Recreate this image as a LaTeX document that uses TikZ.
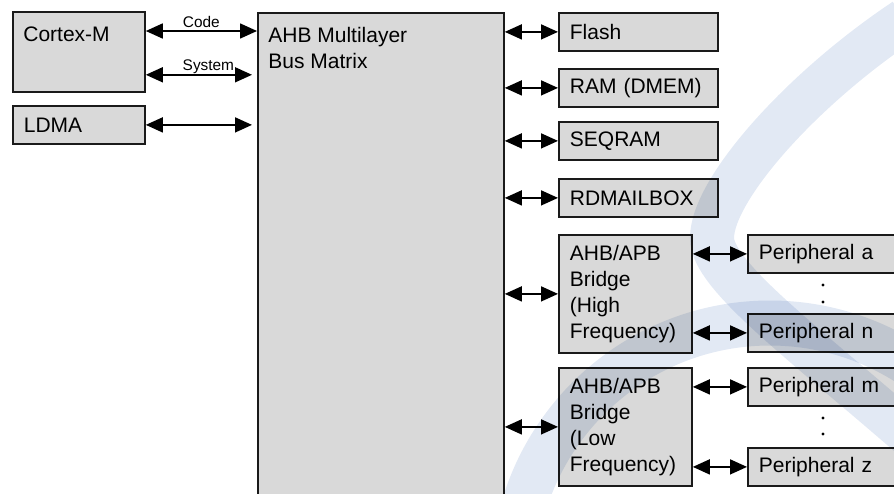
\documentclass[tikz,border=0pt]{standalone}
\usepackage{fontspec}
\setmainfont{Liberation Sans}
\usepackage{tikz}
\usetikzlibrary{arrows.meta, positioning}
\definecolor{boxgray}{RGB}{217,217,217}
\definecolor{boxline}{RGB}{26,26,26}
\definecolor{wmblue}{RGB}{226,233,244}
\tikzset{
  block/.style={
    rectangle, draw=boxline, fill=boxgray, line width=0.9pt,
    anchor=north west, align=left, inner xsep=5.5pt, inner ysep=0pt
  },
  memory/.style={block, minimum width=79.5pt, text width=68.5pt, minimum height=19pt},
  bridge/.style={block, minimum width=66.5pt, text width=55.5pt, minimum height=59pt},
  periph/.style={block, minimum width=82pt, text width=71pt, minimum height=19pt},
  toplabel/.style={
    label={[anchor=north west, inner sep=0pt, align=left, xshift=5.5pt, yshift=-7.5pt]north west:#1}
  },
  link/.style={
    {Triangle[length=8.5pt,width=7.5pt]}-{Triangle[length=8.5pt,width=7.5pt]}, line width=0.8pt, color=black
  },
  buslabel/.style={font=\fontsize{7.7pt}{9pt}\selectfont, anchor=base, inner sep=0pt, yshift=2pt},
  watermark/.style={draw=wmblue, blend mode=multiply}
}

\begin{document}
\begin{tikzpicture}[x=0.5pt, y=-0.5pt, font=\fontsize{10.5pt}{13pt}\selectfont]

\useasboundingbox (0,0) rectangle (894,493);
\clip (0,0) rectangle (894,493);

% masters
\node[block, minimum width=66pt, minimum height=40pt, toplabel=Cortex-M] (cortex) at (12,11) {};
\node[block, minimum width=66pt, text width=55pt, minimum height=19pt] (ldma) at (12,105) {LDMA};

\node[block, minimum width=123pt, minimum height=245pt, toplabel={AHB Multilayer\\Bus Matrix}] (matrix) at (257,12) {};

% slaves
\node[memory] (flash) at (558,12) {Flash};
\node[memory] (ram) at (558,68) {RAM (DMEM)};
\node[memory] (seqram) at (558,121) {SEQRAM};
\node[memory] (rdmailbox) at (558,178) {RDMAILBOX};

\node[bridge] (bridgeHigh) at (558,234) {AHB/APB\\Bridge\\(High\\Frequency)};
\node[bridge] (bridgeLow) at (558,367) {AHB/APB\\Bridge\\(Low\\Frequency)};

\node[periph] (periphA) at (747,234) {Peripheral a};
\node[periph] (periphN) at (747,313) {Peripheral n};
\node[periph] (periphM) at (747,367) {Peripheral m};
\node[periph] (periphZ) at (747,447) {Peripheral z};

\foreach \y in {285,302,418,434}
  \fill (823,\y) circle[radius=0.8pt];

% buses
\coordinate (codeL) at ([yshift=-10pt]cortex.north east);
\coordinate (systemL) at ([yshift=9pt]cortex.south east);

\draw[link] (codeL) -- (codeL -| matrix.west) node[buslabel, midway] {Code};
\draw[link, shorten >=2.5pt] (systemL) -- (systemL -| matrix.west) node[buslabel, midway, xshift=3.5pt] {System};
\draw[link, shorten >=2.5pt] (ldma.east) -- (ldma.east -| matrix.west);

\foreach \n in {flash, ram, seqram, rdmailbox, bridgeHigh, bridgeLow}
  \draw[link] (\n.west -| matrix.east) -- (\n.west);

\draw[link] (periphA.west -| bridgeHigh.east) -- (periphA.west);
\draw[link] (periphN.west -| bridgeHigh.east) -- (periphN.west);
\draw[link] (periphM.west -| bridgeLow.east) -- (periphM.west);
\draw[link] (periphZ.west -| bridgeLow.east) -- (periphZ.west);

% watermark
\draw[watermark, line width=22.5pt] (770,580) ++(180:257) arc[start angle=180, end angle=330, radius=257];
\draw[watermark, line width=22pt] (915,440) .. controls (800,340) and (712,275) .. (712,238)
  .. controls (712,190) and (800,90) .. (905,20);

\end{tikzpicture}
\end{document}
